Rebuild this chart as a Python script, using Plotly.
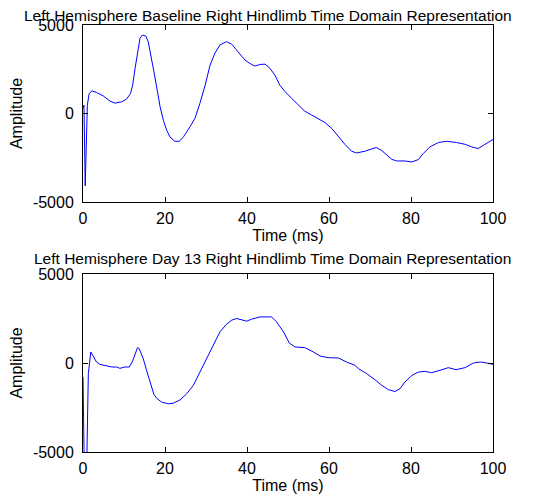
import plotly.graph_objects as go

# Top panel: Left Hemisphere Baseline
t_base = [0, 0.24, 0.54, 1.06, 1.5, 2.2, 3.3, 4.9, 6.6, 7.8, 9.4, 10.6, 11.6, 12.1, 12.7, 13.3, 13.9, 14.5,
          15.3, 15.9, 16.6, 17.3, 18.1, 18.8, 19.6, 20.4, 21.2, 22.4, 23.5, 24.5, 26.1, 27.3, 28.5, 29.8,
          31.0, 32.2, 33.4, 35.0, 36.3, 37.9, 39.5, 40.7, 41.9, 43.2, 44.4, 45.6, 46.8, 48.0, 49.3, 50.9,
          52.5, 54.1, 55.8, 57.4, 59.0, 60.7, 62.3, 63.9, 65.5, 66.7, 68.8, 70.0, 71.5, 72.8, 74.1, 75.3,
          76.5, 78.5, 80.2, 81.8, 83.0, 84.6, 86.7, 88.7, 91.1, 93.2, 94.8, 96.4, 97.7, 98.9, 100]
v_base = [300, 470, -4095, 470, 1130, 1280, 1190, 1000, 700, 585, 660, 810, 1130, 1600, 2550, 3490, 4250, 4430,
          4380, 4060, 3300, 2360, 1320, 380, -380, -940, -1320, -1570, -1570, -1320, -750, -280, 570, 1600,
          2740, 3420, 3870, 4060, 3910, 3450, 3020, 2830, 2680, 2770, 2790, 2550, 2170, 1600, 1230, 850,
          470, 130, -90, -280, -510, -850, -1320, -1750, -2130, -2230, -2130, -2020, -1920, -2080, -2360, -2590,
          -2680, -2680, -2740, -2600, -2260, -1890, -1640, -1570, -1640, -1740, -1890, -1980, -1790, -1600, -1470]

# Bottom panel: Left Hemisphere Day 13
t_day13 = [0, 0.35, 0.85, 1.3, 1.9, 2.5, 3.3, 4.1, 5.4, 7.0, 8.2, 9.0, 10.2, 11.3, 12.1, 12.7, 13.3, 13.7,
           14.7, 15.5, 16.5, 17.3, 18.1, 19.2, 20.8, 22.0, 23.7, 25.3, 26.9, 28.1, 29.3, 30.6, 31.8, 33.0,
           33.4, 35.0, 36.3, 37.5, 38.7, 39.9, 41.1, 43.2, 46.0, 47.2, 48.9, 50.3, 51.7, 54.1, 56.2, 57.8,
           59.8, 62.3, 64.3, 66.3, 67.2, 69.2, 71.2, 72.9, 74.5, 76.1, 77.3, 78.5, 80.2, 81.8, 83.4, 85.0,
           87.1, 89.1, 91.0, 93.2, 95.2, 96.9, 98.5, 100]
v_day13 = [-790, -6500, -6500, -600, 620, 340, 56, -75, -130, -225, -225, -300, -225, -225, 110, 530, 865, 810,
           240, -410, -1170, -1770, -2010, -2200, -2290, -2260, -2070, -1730, -1260, -700, -75, 530, 1090, 1560,
           1750, 2180, 2410, 2500, 2440, 2350, 2460, 2590, 2590, 2310, 1750, 1130, 900, 865, 620, 395,
           300, 280, 56, -130, -320, -600, -940, -1260, -1500, -1600, -1450, -1070, -700, -510, -470, -545,
           -410, -260, -375, -260, 0, 56, 0, -75]

x_ticks = [0, 20, 40, 60, 80, 100]
y_ticks = [-5000, 0, 5000]
y_tick_text = ["-5000", "0", "5000"]
titles = ["Left Hemisphere Baseline Right Hindlimb Time Domain Representation",
          "Left Hemisphere Day 13 Right Hindlimb Time Domain Representation"]

# page has an 8px body margin; figure sized to fit the window
W, H = 544, 492
OFF = 8
font = dict(family="Liberation Sans, Arial, sans-serif", size=16, color="black")

fig = go.Figure()
fig.add_trace(go.Scatter(x=t_base, y=v_base, mode="lines", line=dict(color="#0000ff", width=1),
                         xaxis="x", yaxis="y", showlegend=False))
fig.add_trace(go.Scatter(x=t_day13, y=v_day13, mode="lines", line=dict(color="#0000ff", width=1),
                         xaxis="x2", yaxis="y2", showlegend=False))


def px_x(p):
    return (p - OFF) / W


def px_y(p):
    return 1 - (p - OFF) / H


xd = [px_x(83), px_x(493)]
axis_common = dict(showline=True, linecolor="black", linewidth=1, mirror="allticks", ticks="inside",
                   ticklen=5, tickcolor="black", showgrid=False, zeroline=False, automargin=False,
                   tickfont=dict(size=16), title_font=dict(size=16))

fig.update_layout(
    width=W, height=H, margin=dict(l=0, r=0, t=0, b=0),
    paper_bgcolor="white", plot_bgcolor="white", font=font,
    xaxis=dict(domain=xd, range=[0, 100], tickvals=x_ticks, anchor="y", ticklabelstandoff=2,
               title=dict(text="Time (ms)", standoff=0), **axis_common),
    yaxis=dict(domain=[px_y(202), px_y(25)], range=[-5000, 5000], tickvals=y_ticks,
               ticktext=y_tick_text, anchor="x", ticklabelstandoff=5,
               title=dict(text="Amplitude", standoff=9), **axis_common),
    xaxis2=dict(domain=xd, range=[0, 100], tickvals=x_ticks, anchor="y2", ticklabelstandoff=2,
                title=dict(text="Time (ms)", standoff=0), **axis_common),
    yaxis2=dict(domain=[px_y(452), px_y(274)], range=[-5000, 5000], tickvals=y_ticks,
                ticktext=y_tick_text, anchor="x2", ticklabelstandoff=5,
                title=dict(text="Amplitude", standoff=9), **axis_common),
)

fig.add_annotation(text=titles[0], xref="paper", yref="paper", x=px_x(268), y=px_y(15),
                   showarrow=False, font=dict(size=15.5), xanchor="center", yanchor="middle")
fig.add_annotation(text=titles[1], xref="paper", yref="paper", x=px_x(272), y=px_y(258),
                   showarrow=False, font=dict(size=15.5), xanchor="center", yanchor="middle")

fig.write_html("out.html")
